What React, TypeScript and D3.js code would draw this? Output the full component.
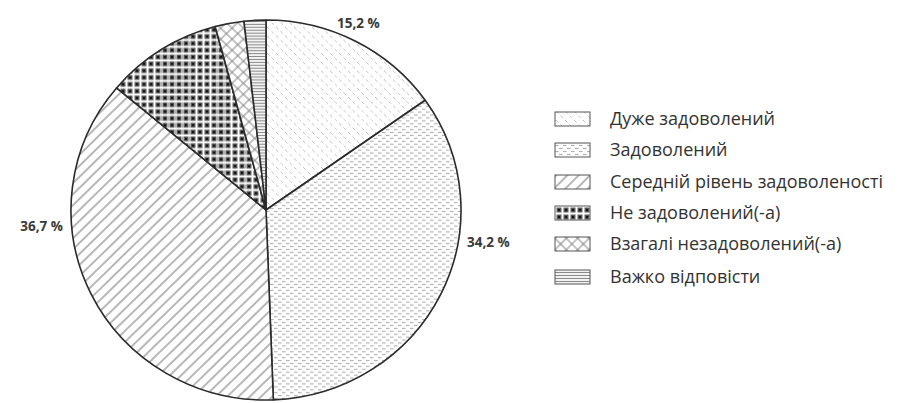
import React from "react";
import * as d3 from "d3";

const categories = [
  "Дуже задоволений",
  "Задоволений",
  "Середній рівень задоволеності",
  "Не задоволений(-а)",
  "Взагалі незадоволений(-а)",
  "Важко відповісти",
];
const values = [15.2, 34.2, 36.7, 9.7, 2.4, 1.8];
const valueLabels = ["15,2 %", "34,2 %", "36,7 %", "", "", ""];
const patternIds = ["pVery", "pSat", "pMid", "pNot", "pNone", "pHard"];

const W = 899;
const H = 403;
const cx = 266;
const cy = 210;
const rx = 195;
const ry = 190;

export default function App() {
  const pie = d3.pie<number>().sort(null).value((d) => d)(values);
  const arc = d3.arc<d3.PieArcDatum<number>>().innerRadius(0).outerRadius(rx);
  const labelPos: { x: number; y: number; anchor: string }[] = [
    { x: 337, y: 28, anchor: "start" },
    { x: 467, y: 247, anchor: "start" },
    { x: 63, y: 231, anchor: "end" },
  ];
  const legendY = [119, 150, 182, 213, 244, 277];
  return (
    <svg width={W} height={H} style={{ position: "absolute", left: 0, top: 0, background: "#fff" }}>
      <defs>
        <pattern id="pVery" width="9" height="9" patternUnits="userSpaceOnUse">
          <rect width="9" height="9" fill="#fff" />
          <line x1="1" y1="1" x2="3.5" y2="3.5" stroke="#bdbdbd" strokeWidth="1" />
          <line x1="5.5" y1="5.5" x2="8" y2="8" stroke="#c8c8c8" strokeWidth="1" />
        </pattern>
        <pattern id="pSat" width="8" height="6" patternUnits="userSpaceOnUse">
          <rect width="8" height="6" fill="#fff" />
          <line x1="0" y1="1.5" x2="3.5" y2="1.5" stroke="#b0b0b0" strokeWidth="1.2" />
          <line x1="4" y1="4.5" x2="7.5" y2="4.5" stroke="#b0b0b0" strokeWidth="1.2" />
        </pattern>
        <pattern id="pMid" width="8" height="8" patternUnits="userSpaceOnUse" patternTransform="rotate(-45)">
          <rect width="8" height="8" fill="#fff" />
          <line x1="0" y1="4" x2="8" y2="4" stroke="#6f6f6f" strokeWidth="1" />
        </pattern>
        <pattern id="pNot" width="7" height="7" patternUnits="userSpaceOnUse">
          <rect width="7" height="7" fill="#fff" />
          <rect x="1.5" y="1.5" width="5" height="5" fill="#5e5e5e" />
          <rect x="2.8" y="2.8" width="2.4" height="2.4" fill="#151515" />
        </pattern>
        <pattern id="pNone" width="8" height="8" patternUnits="userSpaceOnUse" patternTransform="rotate(45)">
          <rect width="8" height="8" fill="#fff" />
          <line x1="0" y1="4" x2="8" y2="4" stroke="#777" strokeWidth="0.9" />
          <line x1="4" y1="0" x2="4" y2="8" stroke="#777" strokeWidth="0.9" />
        </pattern>
        <pattern id="pHard" width="4" height="3" patternUnits="userSpaceOnUse">
          <rect width="4" height="3" fill="#f2f2f2" />
          <line x1="0" y1="1.5" x2="4" y2="1.5" stroke="#8a8a8a" strokeWidth="1" />
        </pattern>
      </defs>
      <g transform={`translate(${cx},${cy}) scale(1,${ry / rx})`}>
        {pie.map((d, i) => (
          <path
            key={categories[i]}
            d={arc(d) || ""}
            fill={`url(#${patternIds[i]})`}
            stroke="#2b2b2b"
            strokeWidth={1.6}
            strokeLinejoin="round"
          />
        ))}
      </g>
      {labelPos.map((p, i) => (
        <text
          key={i}
          x={p.x}
          y={p.y}
          textAnchor={p.anchor}
          fontFamily="'Open Sans', sans-serif"
          fontWeight="bold"
          fontSize={13.5}
          fill="#3a3a3a"
        >
          {valueLabels[i]}
        </text>
      ))}
      {categories.map((c, i) => (
        <g key={c} transform={`translate(555,${legendY[i]})`}>
          <rect x={0} y={-7} width={35} height={14} fill={`url(#${patternIds[i]})`} stroke="#555" strokeWidth={1} />
          <text x={55} y={6} fontFamily="'Open Sans', sans-serif" fontSize={18} fill="#333">
            {c}
          </text>
        </g>
      ))}
    </svg>
  );
}
